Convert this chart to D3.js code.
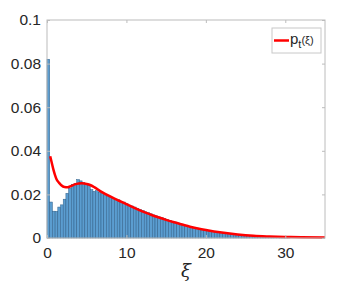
<!DOCTYPE html>
<html>
<head>
<meta charset="utf-8">
<script src="https://cdn.jsdelivr.net/npm/d3@7"></script>
<style>
  body { margin: 0; background: #fff; }
  svg { display: block; }
  text { font-family: Helvetica, Arial, "Liberation Sans", sans-serif; fill: #262626; }
</style>
</head>
<body>
<div id="chart"></div>
<script>
// histogram: bin width and bar heights (probability per bin)
var binWidth = 0.34;
var barValues = [
  0.082, 0.0165, 0.0123, 0.0122, 0.0142, 0.0152, 0.0178, 0.0205, 0.0228, 0.0246,
  0.0250, 0.0268, 0.0262, 0.0254, 0.0249, 0.0243, 0.0222, 0.0214, 0.0217, 0.0209,
  0.0203, 0.0198, 0.0193, 0.0188, 0.0181, 0.0178, 0.0175, 0.0168, 0.0165, 0.0157,
  0.0150, 0.0147, 0.0142, 0.0136, 0.0131, 0.0126, 0.0120, 0.0116, 0.0111, 0.0106,
  0.0102, 0.0097, 0.0094, 0.0089, 0.0085, 0.0081, 0.0077, 0.0073, 0.0069, 0.0065,
  0.0061, 0.0057, 0.0054, 0.0051, 0.0048, 0.0045, 0.0042, 0.0040, 0.0037, 0.0035,
  0.0033, 0.0031, 0.0029, 0.0027, 0.0025, 0.0023, 0.0022, 0.0020, 0.0019, 0.0018,
  0.0016, 0.0015, 0.0014, 0.0013, 0.0012, 0.0011, 0.0010, 0.0009, 0.0008, 0.0008,
  0.0007, 0.0006, 0.0006, 0.0005, 0.0005, 0.0004, 0.0004, 0.0003, 0.0003, 0.0002
];

// fitted curve p_t(xi)
var curveXi = [0.4, 0.6, 0.8, 1.0, 1.2, 1.5, 1.8, 2.2, 2.6, 3.0, 3.5, 4.0, 4.4, 5.0, 5.5, 6.0,
  6.7, 7.5, 8.2, 9.0, 10, 11, 12, 13, 14, 15, 16, 17, 18, 19, 20, 22, 24, 26, 28, 30, 32, 35];
var curveP = [0.0375, 0.0345, 0.0315, 0.029, 0.027, 0.0254, 0.0242, 0.0234, 0.0233, 0.0238, 0.0246, 0.0250, 0.0251, 0.0248, 0.0242, 0.0232,
  0.0215, 0.0199, 0.0186, 0.0172, 0.0155, 0.0138, 0.0122, 0.0108, 0.0095, 0.0083, 0.0072, 0.0062, 0.0052, 0.0044, 0.0037, 0.0025, 0.0016, 0.0010, 0.0007, 0.0005, 0.0003, 0.0002];

var xTicks = [0, 10, 20, 30];
var yTicks = [0, 0.02, 0.04, 0.06, 0.08, 0.1];
var yTickLabels = ["0", "0.02", "0.04", "0.06", "0.08", "0.1"];

var W = 359, H = 283;
var margin = {left: 47, right: 34, top: 20, bottom: 45};

var svg = d3.select("#chart").append("svg")
  .attr("width", W)
  .attr("height", H);

var x = d3.scaleLinear().domain([0, 35]).range([margin.left, W - margin.right]);
var y = d3.scaleLinear().domain([0, 0.1]).range([H - margin.bottom, margin.top]);

var bars = barValues.map(function(v, i) {
  return {x0: i * binWidth, x1: (i + 1) * binWidth, v: v};
});

// bars
svg.append("g")
  .selectAll("rect")
  .data(bars)
  .join("rect")
    .attr("x", d => x(d.x0))
    .attr("width", d => x(d.x1) - x(d.x0))
    .attr("y", d => y(d.v))
    .attr("height", d => y(0) - y(d.v))
    .attr("fill", "#5b9dd0")
    .attr("stroke", "#2f5f88")
    .attr("stroke-width", 0.5);

// curve
var line = d3.line()
  .x((d, i) => x(curveXi[i]))
  .y(d => y(d))
  .curve(d3.curveMonotoneX);

svg.append("path")
  .datum(curveP)
  .attr("d", line)
  .attr("fill", "none")
  .attr("stroke", "#ff0000")
  .attr("stroke-width", 2.5);

// axes box
var axisColor = "#bcbcbc";
svg.append("rect")
  .attr("x", x(0))
  .attr("y", y(0.1))
  .attr("width", x(35) - x(0))
  .attr("height", y(0) - y(0.1))
  .attr("fill", "none")
  .attr("stroke", axisColor)
  .attr("stroke-width", 1);

var xAxis = svg.append("g")
  .attr("transform", "translate(0," + y(0) + ")")
  .call(d3.axisBottom(x).tickValues(xTicks).tickSize(-3).tickPadding(9).tickFormat(d3.format("d")));
var xTop = svg.append("g")
  .attr("transform", "translate(0," + y(0.1) + ")")
  .call(d3.axisTop(x).tickValues(xTicks).tickSize(-3).tickFormat(""));
var yAxis = svg.append("g")
  .attr("transform", "translate(" + x(0) + ",0)")
  .call(d3.axisLeft(y).tickValues(yTicks).tickSize(-3).tickPadding(6).tickFormat((d, i) => yTickLabels[i]));
var yRight = svg.append("g")
  .attr("transform", "translate(" + x(35) + ",0)")
  .call(d3.axisRight(y).tickValues(yTicks).tickSize(-3).tickFormat(""));

[xAxis, xTop, yAxis, yRight].forEach(function(a) {
  a.select(".domain").remove();
  a.selectAll(".tick line").attr("stroke", axisColor);
  a.selectAll(".tick text")
    .attr("fill", "#262626")
    .style("font-size", "15.5px")
    .style("font-family", "Helvetica, Arial, 'Liberation Sans', sans-serif");
});

// x label
svg.append("text")
  .attr("x", (x(0) + x(35)) / 2)
  .attr("y", 277)
  .attr("text-anchor", "middle")
  .style("font-size", "18px")
  .style("font-style", "italic")
  .style("font-family", "'DejaVu Serif', serif")
  .text("\u03BE");

// legend
var lg = svg.append("g");
lg.append("rect")
  .attr("x", 272)
  .attr("y", 28)
  .attr("width", 49)
  .attr("height", 25)
  .attr("fill", "#fff")
  .attr("stroke", "#c8c8c8")
  .attr("stroke-width", 1);
lg.append("line")
  .attr("x1", 274).attr("x2", 289)
  .attr("y1", 40.5).attr("y2", 40.5)
  .attr("stroke", "#ff0000")
  .attr("stroke-width", 2.5);
var lt = lg.append("text")
  .attr("x", 290)
  .attr("y", 44)
  .style("font-size", "15px");
lt.append("tspan").text("p");
lt.append("tspan").attr("dy", 4).style("font-size", "11px").text("t");
lt.append("tspan").attr("dy", -4).style("font-size", "11px").text("(\u03BE)");
</script>
</body>
</html>
